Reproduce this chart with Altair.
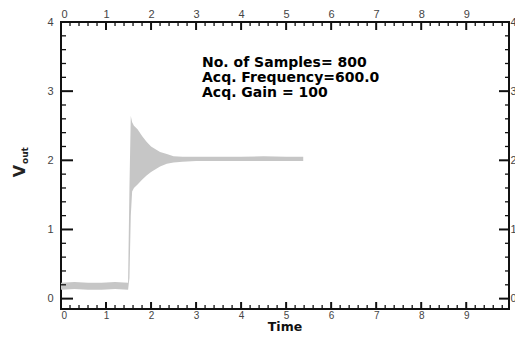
import altair as alt
import pandas as pd

# signal envelope (dense oscillating trace drawn as a band between lo and hi)
t = [0.0, 0.3, 0.6, 0.9, 1.2, 1.49, 1.52, 1.55, 1.58, 1.62, 1.7, 1.8, 1.9, 2.0,
     2.1, 2.2, 2.35, 2.5, 2.7, 3.0, 3.5, 4.0, 4.5, 5.0, 5.38]
hi = [0.23, 0.24, 0.23, 0.23, 0.24, 0.23, 1.6, 2.64, 2.55, 2.5, 2.45, 2.35, 2.27, 2.2,
      2.16, 2.12, 2.09, 2.06, 2.05, 2.05, 2.05, 2.05, 2.06, 2.05, 2.05]
lo = [0.13, 0.14, 0.13, 0.13, 0.14, 0.13, 0.3, 1.2, 1.55, 1.6, 1.65, 1.72, 1.78, 1.83,
      1.87, 1.91, 1.95, 1.97, 1.98, 1.99, 1.99, 1.99, 1.99, 1.99, 1.99]

x_major = [0, 1, 2, 3, 4, 5, 6, 7, 8, 9]
x_minor = [round(m + f, 1) for m in range(10) for f in (0.2, 0.4, 0.6, 0.8)]
y_major = [0, 1, 2, 3, 4]
y_minor = [round(m + f, 1) for m in range(4) for f in (0.2, 0.4, 0.6, 0.8)]

notes = ["No. of Samples= 800", "Acq. Frequency=600.0", "Acq. Gain = 100"]
x_title = "Time"

W, H = 448, 287
LF = "Liberation Sans"

sig = pd.DataFrame({"t": t, "lo": lo, "hi": hi})
one = pd.DataFrame({"k": [0]})
xmaj = pd.DataFrame({"v": x_major})
xmin = pd.DataFrame({"v": x_minor})
ymaj = pd.DataFrame({"v": y_major})
ymin = pd.DataFrame({"v": y_minor})

xs = alt.Scale(domain=[0, 9.95], nice=False, zero=False)
ys = alt.Scale(domain=[-0.15, 4], nice=False, zero=False)

lab = dict(ticks=False, domain=False, grid=False, labelFont=LF, labelFontSize=11,
           labelColor="#444", format="d")

area = alt.Chart(sig).mark_area(color="#c6c6c6", opacity=1).encode(
    x=alt.X("t:Q", scale=xs, axis=alt.Axis(orient="bottom", values=x_major, labelPadding=1,
                                           title=None, ticks=False, domain=False, grid=False,
                                           labelFont=LF, labelFontSize=10, labelColor="#444",
                                           format="d")),
    y=alt.Y("lo:Q", scale=ys, axis=alt.Axis(orient="left", values=y_major, labelPadding=8,
                                            title=None, **lab)),
    y2="hi:Q",
)

def xt(df, y0, y1, w, axis=None):
    return alt.Chart(df).mark_rule(color="#111", strokeWidth=w).encode(
        x=alt.X("v:Q", scale=xs, axis=axis), y=alt.value(y0), y2=alt.value(y1))

def yt(df, x0, x1, w, axis=None):
    return alt.Chart(df).mark_rule(color="#111", strokeWidth=w).encode(
        y=alt.Y("v:Q", scale=ys, axis=axis), x=alt.value(x0), x2=alt.value(x1))

top_axis = alt.Axis(orient="top", values=x_major, labelPadding=3, title=None, **lab)
right_axis = alt.Axis(orient="right", values=y_major, labelPadding=1, title=None, **lab)

layers = [
    area,
    xt(xmaj, H, H - 7, 2), xt(xmin, H, H - 4, 1.3),
    xt(xmaj, 0, 8, 2, top_axis), xt(xmin, 0, 4, 1.3),
    yt(ymaj, 0, 12, 2), yt(ymin, 0, 5, 1.3),
    yt(ymaj, W, W - 10, 2, right_axis), yt(ymin, W, W - 4, 1.3),
]

for i, line in enumerate(notes):
    layers.append(alt.Chart(one).mark_text(
        text=line, align="left", baseline="alphabetic", font="DejaVu Sans",
        fontSize=14, fontWeight="bold", color="#000"
    ).encode(x=alt.value(141), y=alt.value(45 + 15 * i)))

layers.append(alt.Chart(one).mark_text(
    text=x_title, align="center", baseline="alphabetic", font="DejaVu Sans",
    fontSize=12.5, fontWeight="bold", color="#111"
).encode(x=alt.value(W / 2), y=alt.value(H + 22)))

layers.append(alt.Chart(one).mark_text(
    text="V", align="center", baseline="alphabetic", angle=270, font="DejaVu Sans",
    fontSize=16, fontWeight="bold", color="#222"
).encode(x=alt.value(-36), y=alt.value(149)))
layers.append(alt.Chart(one).mark_text(
    text="out", align="left", baseline="alphabetic", angle=270, font="DejaVu Sans",
    fontSize=9, fontWeight="bold", color="#222"
).encode(x=alt.value(-33), y=alt.value(142)))

chart = alt.layer(*layers).resolve_axis(x="independent", y="independent").properties(
    width=W, height=H,
    autosize=alt.AutoSizeParams(type="none"),
    padding={"left": 53, "top": 14, "right": 6, "bottom": 22},
).configure_view(stroke="#111", strokeWidth=2)

chart.save("out.html", embed_options={"renderer": "svg", "actions": False})
